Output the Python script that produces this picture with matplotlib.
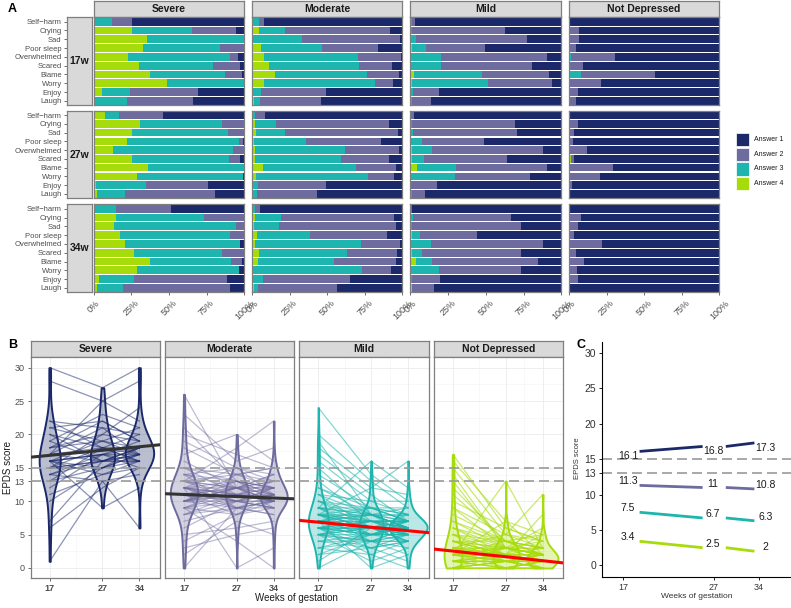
import numpy as np
import matplotlib.pyplot as plt
from matplotlib.patches import Rectangle
from matplotlib.colors import to_rgba

plt.rcParams['font.family'] = ['Liberation Sans', 'DejaVu Sans']

# ---------------- data ----------------
groups = ['Severe', 'Moderate', 'Mild', 'Not Depressed']
weeks_labels = ['17w', '27w', '34w']
items = ['Self\u2212harm', 'Crying', 'Sad', 'Poor sleep', 'Overwhelmed',
         'Scared', 'Blame', 'Worry', 'Enjoy', 'Laugh']
answers = ['Answer 1', 'Answer 2', 'Answer 3', 'Answer 4']
answer_colors = ['#1B2869', '#6E6B9E', '#1DB5AD', '#A7DC0C']

# percentages per item, columns: Answer 4, Answer 3, Answer 2, Answer 1
sev_17 = [[0, 12, 13.5, 74.5], [25.4, 39.8, 29.2, 5.6], [35.2, 64.8, 0, 0],
          [32.5, 51.3, 16.2, 0], [22.6, 67.7, 5.8, 3.9], [30, 49, 18.3, 2.7],
          [37.6, 49.8, 11.1, 1.5], [48.9, 51.1, 0, 0], [5.5, 18.4, 45.1, 31],
          [0, 21.9, 44, 34.1]]
mod_17 = [[0, 4.9, 3.1, 92], [4.4, 17.7, 69.4, 8.5], [0.9, 32.6, 65, 1.5],
          [6, 40.6, 37, 16.4], [8, 62.5, 28.6, 0.9], [11.5, 59.6, 22, 6.9],
          [15.3, 61.4, 20.8, 2.5], [8, 73.8, 12.2, 6], [0.7, 5.3, 43, 51],
          [1.1, 4, 40.6, 54.3]]
mild_17 = [[0, 1, 2, 97], [0, 1.3, 61.2, 37.5], [0.7, 3, 73.7, 22.6],
           [0.9, 9.5, 39.3, 50.3], [0.4, 19.6, 70.4, 9.6], [0.4, 20, 60.1, 19.5],
           [2.2, 45, 44.6, 8.2], [0.9, 50.8, 41.9, 6.4], [0, 1.5, 17.2, 81.3],
           [0.4, 0.9, 12.1, 86.6]]
nd_17 = [[0, 0, 0.5, 99.5], [0, 0, 6.4, 93.6], [0, 0, 6.4, 93.6],
         [0, 0, 4.7, 95.3], [0, 1.3, 29.3, 69.4], [0, 0, 9.1, 90.9],
         [0.7, 7.1, 49.4, 42.8], [0, 0, 21.3, 78.7], [0, 0, 5.8, 94.2],
         [0.4, 0.3, 3.8, 95.5]]
sev_27 = [[7.5, 9.3, 29.2, 54], [30.5, 54.6, 14.9, 0], [25.4, 63.7, 10.9, 0],
          [21.9, 74.8, 2.2, 1.1], [12.8, 79.6, 7.6, 0], [25.4, 64.4, 7.3, 2.9],
          [36, 64, 0, 0], [28.8, 70.3, 0, 0.9], [1.5, 33, 41.6, 23.9],
          [2, 19, 59.8, 19.2]]
mod_27 = [[0, 2.2, 6.4, 91.4], [2, 14, 75.4, 8.6], [2.7, 19.3, 75.1, 2.9],
          [1.3, 34.4, 49.9, 14.4], [2, 59.9, 35.9, 2.2], [2, 57.4, 31.5, 9.1],
          [7.3, 61.9, 26.6, 4.2], [2.7, 74.5, 17.3, 5.5], [0, 3.8, 45.5, 50.7],
          [0, 3.3, 39.7, 57]]
mild_27 = [[0, 0.5, 2, 97.5], [0.4, 0.9, 68, 30.7], [0.4, 1.1, 68.9, 29.6],
           [0, 7.5, 41.1, 51.4], [0.9, 13.5, 73.5, 12.1], [0.9, 8.2, 55.1, 35.8],
           [4.2, 26, 60.5, 9.3], [0.4, 29.1, 49.7, 20.8], [0, 0, 17.9, 82.1],
           [0, 0.9, 8.8, 90.3]]
nd_27 = [[0, 0, 0, 100], [0, 0, 5.8, 94.2], [0, 0, 3.1, 96.9],
         [0, 0, 2.9, 97.1], [0, 0.7, 11, 88.3], [1.1, 0.4, 1.8, 96.7],
         [0.4, 0, 28.8, 70.8], [0, 0, 20.4, 79.6], [0, 0, 2, 98],
         [0, 0, 0, 100]]
sev_34 = [[0, 14.8, 36.5, 48.7], [14.8, 58.4, 26.8, 0], [13.5, 81, 5.5, 0],
          [17.3, 73.2, 9.5, 0], [20.8, 76.5, 0, 2.7], [26.5, 58.4, 15.1, 0],
          [37.4, 54, 7.1, 1.5], [28.8, 67.7, 0, 3.5], [3.3, 23.5, 62, 11.2],
          [2.4, 17.3, 70.8, 9.5]]
mod_34 = [[0, 2.2, 3.1, 94.7], [1.8, 17.5, 75.4, 5.3], [1.3, 16.9, 77.8, 4],
          [3.5, 35, 51.1, 10.4], [2.2, 70, 26.3, 1.5], [4.4, 58.8, 33, 3.8],
          [4, 50.6, 41.2, 4.2], [0.9, 72.5, 19.1, 7.5], [0, 7.3, 57.9, 34.8],
          [1.3, 2.4, 53.1, 43.2]]
mild_34 = [[0, 0, 1.3, 98.7], [0, 1.5, 65.4, 33.1], [0, 0.9, 72.4, 26.7],
           [0.9, 5.5, 37.5, 56.1], [0, 13.7, 74.2, 12.1], [0.9, 6.6, 65.6, 26.9],
           [3.8, 10.4, 70.6, 15.2], [0, 19, 54.5, 26.5], [0.4, 0.9, 18.1, 80.6],
           [0.9, 0, 14.8, 84.3]]
nd_34 = [[0, 0, 0, 100], [0, 0, 8, 92], [0, 0, 5.8, 94.2],
         [0, 0.7, 2.4, 96.9], [0.4, 0, 21.3, 78.3], [0, 0, 4.7, 95.3],
         [0, 0, 10.2, 89.8], [0, 0, 5.5, 94.5], [0, 0, 6, 94],
         [0, 0, 0.5, 99.5]]

panel_a = [[sev_17, mod_17, mild_17, nd_17],
           [sev_27, mod_27, mild_27, nd_27],
           [sev_34, mod_34, mild_34, nd_34]]

# individual EPDS trajectories (17w, 27w, 34w)
weeks = [17, 27, 34]
traj_severe = [[16, 17, 18], [15, 16, 17], [17, 18, 16], [14, 16, 17], [16, 15, 18],
               [18, 20, 19], [13, 15, 16], [16, 17, 17], [15, 18, 16], [17, 16, 18],
               [12, 17, 19], [20, 18, 17], [22, 21, 20], [21, 22, 19], [16, 14, 15],
               [15, 16, 16], [10, 15, 17], [7, 16, 18], [6, 12, 15], [1, 13, 14],
               [30, 27, 30], [28, 25, 22], [19, 23, 21], [16, 9, 12], [15, 20, 24],
               [17, 25, 28], [18, 19, 21], [14, 13, 6], [16, 17, 15], [19, 16, 16],
               [13, 18, 18], [17, 21, 17], [22, 18, 20], [11, 14, 16], [18, 22, 19],
               [15, 15, 17], [16, 19, 18], [20, 16, 18], [21, 19, 17], [14, 17, 16]]
traj_moderate = [[11, 11, 10], [12, 11, 11], [10, 12, 11], [11, 10, 12], [13, 12, 10],
                 [9, 11, 10], [12, 13, 12], [11, 12, 9], [10, 10, 11], [14, 12, 11],
                 [8, 10, 10], [12, 9, 11], [11, 11, 11], [13, 14, 12], [10, 9, 9],
                 [15, 13, 12], [9, 12, 13], [12, 10, 10], [11, 13, 11], [7, 9, 10],
                 [16, 12, 14], [14, 15, 13], [10, 11, 12], [12, 12, 10], [11, 8, 9],
                 [18, 14, 13], [20, 17, 15], [23, 16, 18], [26, 12, 14], [6, 10, 9],
                 [4, 8, 10], [2, 7, 5], [0, 9, 8], [13, 18, 22], [17, 20, 16],
                 [12, 0, 3], [9, 4, 0], [10, 14, 15], [15, 11, 10], [13, 10, 12],
                 [11, 12, 13], [8, 11, 10], [12, 15, 11], [14, 9, 10], [10, 13, 10],
                 [11, 10, 9], [9, 8, 11], [13, 11, 13], [12, 11, 12], [10, 12, 10],
                 [11, 11, 11], [12, 10, 11], [10, 11, 10], [13, 12, 12], [9, 10, 9],
                 [14, 13, 11], [8, 9, 8], [19, 15, 14], [21, 13, 12], [5, 6, 7],
                 [3, 5, 6], [12, 11, 10], [11, 9, 10], [10, 12, 12], [15, 14, 15]]
traj_mild = [[7, 6, 6], [8, 7, 6], [6, 7, 7], [9, 8, 7], [7, 7, 5], [5, 6, 6],
             [8, 6, 7], [6, 5, 5], [7, 8, 6], [10, 7, 7], [9, 6, 5], [6, 6, 6],
             [8, 8, 8], [5, 4, 5], [7, 6, 4], [11, 8, 7], [4, 5, 6], [6, 7, 5],
             [8, 5, 6], [9, 9, 8], [7, 4, 4], [3, 5, 6], [12, 9, 8], [6, 3, 4],
             [5, 7, 7], [8, 6, 6], [7, 9, 9], [10, 8, 6], [0, 4, 5], [1, 6, 4],
             [2, 5, 5], [14, 9, 7], [16, 10, 8], [20, 13, 9], [24, 14, 10],
             [18, 12, 11], [13, 7, 6], [7, 0, 2], [6, 2, 0], [5, 1, 3], [9, 16, 12],
             [8, 12, 16], [11, 10, 10], [7, 5, 7], [6, 8, 6], [8, 7, 7], [9, 7, 6],
             [5, 5, 4], [7, 6, 5], [6, 6, 8], [10, 9, 7], [4, 3, 5], [8, 8, 5],
             [7, 7, 7], [9, 5, 6], [6, 4, 6], [3, 2, 4], [11, 6, 5], [12, 8, 6],
             [5, 6, 7], [6, 5, 6], [7, 6, 7], [8, 6, 5], [5, 4, 4], [9, 8, 6],
             [6, 7, 6], [4, 4, 3], [10, 6, 6], [7, 5, 5], [8, 9, 7], [3, 4, 2],
             [6, 5, 7], [15, 8, 9], [17, 11, 7], [19, 8, 6], [5, 3, 1], [2, 3, 4],
             [8, 4, 6], [7, 8, 8], [6, 6, 4]]
traj_nd = [[3, 2, 2], [2, 2, 1], [4, 3, 2], [1, 1, 1], [0, 0, 0], [3, 2, 3],
           [2, 1, 1], [5, 3, 2], [4, 2, 2], [0, 1, 0], [1, 0, 1], [3, 3, 2],
           [2, 3, 2], [6, 4, 3], [5, 2, 1], [0, 0, 1], [1, 2, 0], [2, 2, 2],
           [4, 4, 3], [3, 1, 2], [7, 3, 2], [8, 4, 3], [9, 5, 4], [10, 6, 4],
           [11, 4, 5], [13, 3, 2], [15, 5, 3], [17, 6, 4], [2, 13, 3], [3, 5, 11],
           [1, 2, 8], [0, 3, 6], [2, 7, 2], [4, 2, 5], [6, 2, 1], [5, 4, 2],
           [3, 0, 0], [1, 1, 2], [2, 0, 1], [0, 2, 1], [3, 3, 3], [4, 1, 1],
           [2, 4, 2], [1, 3, 2], [5, 1, 2], [3, 2, 1], [6, 3, 2], [2, 1, 0],
           [0, 1, 1], [4, 3, 1], [0, 0, 0], [1, 0, 0], [0, 1, 0], [1, 1, 0],
           [0, 0, 1], [1, 0, 1], [2, 1, 1], [0, 0, 0], [1, 1, 1], [2, 2, 1],
           [3, 1, 0], [0, 1, 2], [1, 2, 1], [4, 2, 1], [2, 3, 1], [12, 4, 3],
           [14, 3, 4], [16, 7, 5], [9, 3, 3], [7, 4, 2]]
trajectories = [traj_severe, traj_moderate, traj_mild, traj_nd]

# fitted trend line values at 17w and 34w
fit_17 = [16.87, 11.01, 6.86, 2.53]
fit_34 = [18.16, 10.48, 5.58, 1.09]

# group means (panel C)
mean_17 = [16.1, 11.3, 7.5, 3.4]
mean_27 = [16.8, 11.0, 6.7, 2.5]
mean_34 = [17.3, 10.8, 6.3, 2.0]

group_colors = ['#1B2869', '#6E6B9E', '#1DB5AD', '#A7DC0C']
trend_colors = ['#333333', '#333333', '#FF0000', '#FF0000']
line_alpha = [0.5, 0.45, 0.55, 0.6]

# ---------------- layout helpers ----------------
W, H = 791, 608
fig = plt.figure(figsize=(W / 100, H / 100), dpi=100)


def rect(x0, y0, x1, y1):
    return [x0 / W, 1 - y1 / H, (x1 - x0) / W, (y1 - y0) / H]


border = '#7f7f7f'
strip_fill = '#D9D9D9'
tick_col = '#4d4d4d'


def strip(x0, y0, x1, y1, label, size=7.5):
    s = fig.add_axes(rect(x0, y0, x1, y1))
    s.set_facecolor(strip_fill)
    s.set_xticks([])
    s.set_yticks([])
    for sp in s.spines.values():
        sp.set_color(border)
        sp.set_linewidth(0.9)
    s.text(0.5, 0.5, label, ha='center', va='center', fontsize=size,
           fontweight='bold', color='#1a1a1a', transform=s.transAxes)
    return s


# ---------------- panel A ----------------
cols_a = [(93.7, 244.3), (252.0, 402.3), (410.3, 561.3), (569.0, 719.3)]
rows_a = [(17.3, 105.3), (110.7, 198.3), (204.3, 292.3)]
ypos = np.arange(len(items))[::-1]

for ci, g in enumerate(groups):
    strip(cols_a[ci][0], 1, cols_a[ci][1], 16.7, g)

for ri, wk in enumerate(weeks_labels):
    y0, y1 = rows_a[ri]
    for ci, g in enumerate(groups):
        ax = fig.add_axes(rect(cols_a[ci][0], y0, cols_a[ci][1], y1))
        vals = np.array(panel_a[ri][ci], float)
        vals = vals / vals.sum(axis=1, keepdims=True)
        left = np.zeros(len(items))
        for k in range(4):
            ax.barh(ypos, vals[:, k], left=left, height=0.88,
                    color=answer_colors[3 - k], linewidth=0)
            left += vals[:, k]
        ax.set_xlim(0, 1)
        ax.set_ylim(-0.5, 9.5)
        ax.set_yticks([])
        for sp in ax.spines.values():
            sp.set_color(border)
            sp.set_linewidth(0.9)
        if ri == 2:
            ax.set_xticks([0, 0.25, 0.5, 0.75, 1])
            ax.set_xticklabels(['0%', '25%', '50%', '75%', '100%'], rotation=45,
                               ha='center', va='top')
            ax.tick_params(axis='x', length=2.5, width=0.5, pad=2,
                           labelsize=6.5, labelcolor=tick_col, color='#333333')
        else:
            ax.set_xticks([])
    # row strip with item labels
    s = strip(67.3, y0, 92.0, y1, wk)
    s.set_ylim(-0.5, 9.5)
    s.set_yticks(ypos)
    s.set_yticklabels(items)
    s.tick_params(axis='y', length=2.5, width=0.5, pad=1.5, labelsize=5.5,
                  labelcolor=tick_col, color='#333333')

# legend
for i, lab in enumerate(answers):
    ky = 133.3 + i * 14.6
    fig.patches.append(Rectangle((735.7 / W, 1 - (ky + 13) / H), 13.3 / W, 13 / H,
                                 transform=fig.transFigure, facecolor=answer_colors[i],
                                 edgecolor='white', linewidth=0.5))
    fig.text(754 / W, 1 - (ky + 6.5) / H, lab, fontsize=5, va='center', ha='left',
             color='#1a1a1a')

fig.text(8 / W, 1 - 9 / H, 'A', fontsize=9, fontweight='bold', va='center')

# ---------------- panel B ----------------
cols_b = [(30.7, 160.0), (165.0, 294.3), (299.3, 428.7), (434.0, 563.3)]
violin_widths = [[4.0, 4.6, 5.4], [5.2, 4.4, 5.1], [3.8, 4.6, 7.2], [3.4, 5.0, 5.8]]
ybreaks = [0, 5, 10, 13, 15, 20, 25, 30]

for gi, g in enumerate(groups):
    x0, x1 = cols_b[gi]
    strip(x0, 341, x1, 357, g)
    ax = fig.add_axes(rect(x0, 357, x1, 578))
    c = group_colors[gi]
    for v in ybreaks:
        ax.axhline(v, color='#EBEBEB', lw=0.6, zorder=0)
    for a, b in zip(ybreaks[:-1], ybreaks[1:]):
        ax.axhline((a + b) / 2, color='#F3F3F3', lw=0.4, zorder=0)
    for v in weeks:
        ax.axvline(v, color='#EBEBEB', lw=0.6, zorder=0)
    for v in [22, 30.5]:
        ax.axvline(v, color='#F3F3F3', lw=0.4, zorder=0)

    traj = np.array(trajectories[gi], float)
    for t in traj:
        ax.plot(weeks, t, color=c, alpha=line_alpha[gi], lw=0.9, zorder=2)
    vp = ax.violinplot([traj[:, 0], traj[:, 1], traj[:, 2]], positions=weeks,
                       widths=violin_widths[gi], showextrema=False)
    for body in vp['bodies']:
        body.set_alpha(None)
        body.set_facecolor(to_rgba(c, 0.3))
        body.set_edgecolor(c)
        body.set_linewidth(1.4)
        body.set_zorder(3)

    ax.axhline(15, color='#9a9a9a', lw=1.2, ls=(0, (6, 3)), zorder=4)
    ax.axhline(13, color='#9a9a9a', lw=1.2, ls=(0, (6, 3)), zorder=4)
    ax.axline((17, fit_17[gi]), (34, fit_34[gi]), color=trend_colors[gi], lw=2.2,
              zorder=5)

    ax.set_xlim(13.4, 37.9)
    ax.set_ylim(-1.5, 31.6)
    ax.set_xticks(weeks)
    ax.set_xticklabels([str(w) for w in weeks], fontweight='bold')
    ax.tick_params(axis='x', length=2.5, width=0.5, pad=2, labelsize=6.5,
                   labelcolor=tick_col, color='#333333')
    if gi == 0:
        ax.set_yticks(ybreaks)
        ax.tick_params(axis='y', length=2.5, width=0.5, pad=2, labelsize=6.5,
                       labelcolor=tick_col, color='#333333')
    else:
        ax.set_yticks([])
    for sp in ax.spines.values():
        sp.set_color(border)
        sp.set_linewidth(0.9)

fig.text(8 / W, 1 - 467 / H, 'EPDS score', rotation=90, fontsize=7, va='center',
         ha='center', color='#1a1a1a')
fig.text(296.7 / W, 1 - 598 / H, 'Weeks of gestation', fontsize=7, va='center',
         ha='center', color='#1a1a1a')
fig.text(8 / W, 1 - 345 / H, 'B', fontsize=9, fontweight='bold', va='center')

# ---------------- panel C ----------------
axc = fig.add_axes(rect(602.3, 341.7, 791, 576.7))
axc.set_xscale('log')
axc.set_xlim(15.3, 40)
axc.set_ylim(-1.6, 31.6)
axc.axhline(15, color='#9a9a9a', lw=1.2, ls=(0, (6, 3)))
axc.axhline(13, color='#9a9a9a', lw=1.2, ls=(0, (6, 3)))
seg_x = [(18.5, 25.5), (28.7, 33.2)]
label_x = [17.45, 26.9, 35.1]
label_dy = [-0.65, 0.55, 0.55, 0.55]
for gi in range(4):
    c = group_colors[gi]
    m = [mean_17[gi], mean_27[gi], mean_34[gi]]
    axc.plot(seg_x[0], [m[0], m[1]], color=c, lw=2, solid_capstyle='butt')
    axc.plot(seg_x[1], [m[1], m[2]], color=c, lw=2, solid_capstyle='butt')
    for lx, v in zip(label_x, m):
        axc.text(lx, v + label_dy[gi], f'{v:g}', fontsize=7.5, ha='center',
                 va='center', color='#1a1a1a')
axc.set_xticks(weeks)
axc.set_xticklabels([str(w) for w in weeks])
axc.xaxis.set_minor_locator(plt.NullLocator())
axc.set_yticks(ybreaks)
axc.tick_params(axis='both', length=2.5, width=0.6, pad=2, labelsize=6.5,
                labelcolor='#333333')
axc.tick_params(axis='y', labelsize=7.5)
for side in ['top', 'right']:
    axc.spines[side].set_visible(False)
for side in ['left', 'bottom']:
    axc.spines[side].set_linewidth(0.8)
fig.text(577.7 / W, 1 - 458 / H, 'EPDS score', rotation=90, fontsize=5.5,
         va='center', ha='center', color='#333333')
fig.text(696.7 / W, 1 - 597 / H, 'Weeks of gestation', fontsize=6, va='center',
         ha='center', color='#333333')
fig.text(576.7 / W, 1 - 345 / H, 'C', fontsize=9, fontweight='bold', va='center')

fig.savefig('out.png', dpi=100)
